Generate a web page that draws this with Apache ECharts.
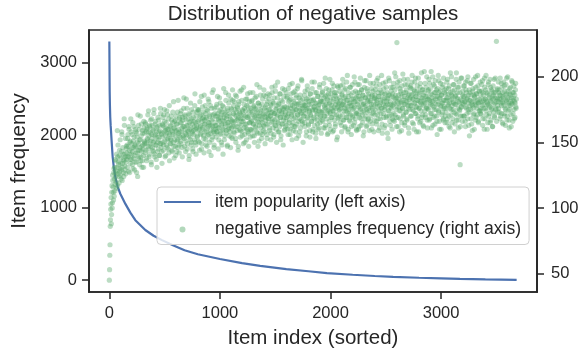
<!DOCTYPE html>
<html>
<head>
<meta charset="utf-8">
<script src="https://cdn.jsdelivr.net/npm/echarts@6/dist/echarts.min.js"></script>
<style>
html,body{margin:0;padding:0;background:#fff;}
#chart{width:582px;height:348px;}
</style>
</head>
<body>
<div id="chart"></div>
<script>
// ---- data ----
const titleText = 'Distribution of negative samples';
const xName = 'Item index (sorted)';
const yLeftName = 'Item frequency';
const lineName = 'item popularity (left axis)';
const scatterName = 'negative samples frequency (right axis)';

const xTicks = [0, 1000, 2000, 3000];
const yLeftTicks = [0, 1000, 2000, 3000];
const yRightTicks = [50, 100, 150, 200];

// item popularity (sorted), read at selected item indices
const popIndex = [0,1,2,3,5,8,12,15,20,30,40,54,75,99,145,190,235,325,400,476,580,680,800,1000,1200,1364,1600,1800,1967,2200,2400,2566,2800,3000,3170,3400,3683];
const popValue = [3290,3050,2800,2600,2420,2250,2130,2060,1930,1700,1560,1420,1290,1190,1050,930,825,690,610,550,475,410,355,290,232,195,150,120,95,72,55,44,31,23,16,9,2];

// negative sample frequency, read for item indices 0,4,8,...,3680
const SAMPLE_STEP = 4;
const negFreq = [
45,64,86,99,108,95,117,104,121,112,127,109,131,118,124,136,115,128,159,139,126,133,119,144,130,125,138,129,158,121,134,141,127,136,163,132,139,126,145,137,
148,131,156,139,162,144,127,151,137,158,141,149,133,165,146,138,154,129,147,160,142,135,157,150,124,144,163,139,152,146,170,136,155,143,131,159,148,140,166,151,
157,142,164,149,136,160,153,171,145,158,139,162,151,167,147,133,156,163,144,159,150,175,141,155,166,148,137,161,154,143,169,152,158,140,163,149,172,146,157,134,
163,150,144,171,158,166,139,155,161,148,174,152,160,145,168,157,136,162,153,149,170,159,143,165,156,181,147,161,152,167,140,158,164,151,173,146,160,155,142,169,
158,172,149,165,161,139,167,154,176,162,147,170,157,151,183,163,145,159,168,155,137,171,160,152,166,148,175,158,164,143,169,156,162,178,150,165,141,161,173,154,
166,151,175,160,144,170,163,157,185,149,168,161,173,155,142,167,164,178,152,169,158,147,174,162,156,181,165,150,171,159,140,176,163,154,168,190,160,148,172,157,
170,154,163,179,158,172,145,167,161,184,156,169,175,150,164,173,159,141,177,166,152,171,162,188,157,168,174,148,165,160,180,155,170,163,146,176,161,167,153,182,
165,178,157,171,162,186,150,173,167,159,176,144,169,181,160,172,154,168,163,190,158,175,166,149,171,179,156,164,174,161,152,183,169,158,177,147,170,165,188,160,
174,160,167,182,155,171,164,178,150,169,176,161,185,158,173,166,147,180,170,163,192,157,175,168,153,179,165,172,159,186,162,170,149,177,167,174,156,181,164,171,
168,183,159,175,170,152,178,165,188,173,161,180,156,172,167,193,163,176,150,171,184,166,158,179,174,162,187,169,155,177,172,164,181,148,175,169,190,160,173,166,
177,163,185,170,156,181,174,167,194,160,176,183,171,152,178,165,188,173,162,180,169,158,186,175,164,191,171,179,155,184,168,176,161,182,173,197,166,178,150,174,
170,186,162,178,175,155,183,168,190,176,164,181,173,159,187,171,179,166,196,174,158,182,169,177,163,188,175,153,180,172,167,185,160,178,174,192,165,181,170,157,
181,167,189,174,161,184,177,170,199,163,179,186,172,156,182,175,190,166,180,173,160,187,178,169,195,174,183,159,177,188,171,164,185,176,152,181,193,168,179,174,
175,189,165,182,178,158,186,171,194,179,167,184,176,162,191,174,182,169,201,177,160,185,172,180,166,192,178,156,183,175,170,188,163,181,177,196,168,184,173,159,
172,188,181,160,177,194,169,183,175,163,190,179,171,186,155,180,174,197,168,184,178,162,191,173,182,167,187,176,159,181,195,170,179,185,164,176,189,173,158,183,
186,171,179,193,164,182,177,199,168,185,174,161,190,180,172,188,176,157,183,195,169,181,175,187,163,178,192,170,184,179,153,186,174,197,166,181,177,189,171,160,
178,192,167,184,180,203,171,186,175,162,226,181,196,169,183,177,158,191,174,187,180,165,193,176,182,170,198,185,163,179,188,173,181,167,194,178,186,157,183,175,
184,170,191,178,196,165,183,187,174,160,189,180,199,172,185,177,193,168,182,158,188,176,181,195,166,184,179,190,171,163,186,182,204,174,180,169,192,177,185,161,
176,190,183,167,195,180,172,187,161,184,178,200,169,182,175,193,164,188,179,185,170,156,191,181,174,197,166,183,189,177,160,186,180,173,194,168,182,177,190,165,
187,173,182,196,168,184,178,191,162,180,176,203,171,186,183,165,189,175,181,194,158,179,185,172,198,167,183,188,176,161,192,180,174,133,170,199,177,182,166,189,
179,193,170,185,181,162,190,176,183,197,168,180,186,173,155,188,182,175,195,164,181,178,191,171,186,160,184,179,200,169,187,176,182,193,166,180,174,189,181,172,
185,171,194,178,163,188,182,176,199,168,183,190,174,181,160,187,179,196,170,184,177,165,192,181,175,189,162,183,186,173,198,169,180,188,176,227,184,191,178,181,
176,190,183,168,186,180,195,172,181,188,164,184,178,193,170,186,175,182,199,167,183,189,174,180,161,187,178,192,171,184,180,196,166,182,188,175,181,169,190,177,183
];

// negative sample frequency, read for item indices 2,6,10,...,3678
const OFFSET_B = 2;
const negFreqB = [
53,72,91,103,88,112,100,125,116,106,130,122,113,137,127,120,141,131,117,148,135,124,140,128,152,134,122,143,156,131,146,137,124,168,141,129,153,135,147,142,
139,153,147,128,160,141,150,134,168,145,137,156,143,130,151,162,140,148,135,158,146,127,154,142,171,138,149,160,133,144,152,139,164,147,136,157,145,131,161,149,
150,165,144,158,138,161,152,147,174,155,141,163,149,157,135,168,153,146,160,143,172,151,139,164,156,148,158,131,162,150,145,167,154,140,159,176,149,156,143,164,
154,169,148,162,175,151,159,140,165,157,146,171,153,160,142,178,156,149,163,152,167,144,158,173,150,161,138,166,155,147,170,159,143,164,152,182,157,148,168,154,
165,151,174,158,146,169,162,155,184,153,171,160,143,167,156,176,149,163,158,172,140,165,154,180,161,150,168,157,145,173,159,166,152,187,160,148,170,163,155,175,
159,174,167,150,181,162,156,171,145,166,177,160,169,153,186,164,158,172,148,168,175,161,155,183,165,143,170,163,178,157,167,152,188,162,171,158,146,176,165,160,
163,177,158,170,185,161,168,152,174,166,180,157,171,163,148,178,167,160,191,169,155,173,164,182,159,170,147,176,165,186,161,172,158,168,183,154,175,166,190,162,
172,158,181,166,175,153,170,185,162,177,168,147,179,164,173,189,159,171,166,182,155,174,168,192,161,176,150,170,183,164,178,160,187,169,157,173,181,165,154,176,
166,181,159,173,188,164,177,155,170,184,162,175,168,194,157,172,180,165,151,178,170,186,161,174,167,156,183,171,163,190,176,158,169,185,164,179,153,172,187,168,
175,161,186,170,179,157,173,192,166,181,168,154,184,172,163,189,175,160,178,170,196,165,180,158,174,187,169,152,182,173,164,191,176,167,185,159,177,171,162,188,
169,184,176,160,191,172,165,182,156,178,187,170,163,195,174,159,181,168,177,189,162,175,184,153,179,171,193,166,180,174,158,186,172,167,198,176,164,183,170,179,
178,165,189,172,181,158,176,193,169,184,163,179,174,154,187,170,182,166,191,175,160,183,177,196,168,180,157,174,188,171,164,185,176,161,179,194,169,182,173,186,
173,188,166,181,195,170,178,161,185,176,191,168,183,174,157,187,179,163,198,172,184,169,176,190,158,181,174,193,167,186,162,179,188,171,183,154,177,192,169,180,
184,170,193,176,163,187,179,198,167,181,174,190,161,185,178,169,196,173,182,158,188,175,167,192,180,171,186,162,178,194,169,183,176,200,165,181,189,172,160,185,
179,194,171,185,162,188,176,199,168,183,190,173,165,186,179,158,192,177,184,170,197,175,163,189,181,168,185,174,201,166,182,177,191,160,186,172,195,179,167,184,
175,190,183,166,197,180,171,188,159,185,178,194,168,182,176,201,164,187,179,172,191,161,184,177,196,169,181,188,157,183,174,199,170,186,179,163,192,176,185,168,
187,172,195,179,166,190,183,200,169,184,177,193,162,186,180,174,197,168,189,181,159,185,176,202,171,188,179,165,194,182,173,190,168,184,198,176,161,187,180,192,
178,193,170,186,201,175,183,164,190,180,196,172,185,177,158,189,182,170,199,176,187,165,192,180,174,203,169,184,190,178,162,188,181,195,171,185,176,200,167,183,
189,175,198,182,168,191,179,204,172,186,181,163,194,177,188,170,197,183,175,190,166,185,179,201,173,188,160,184,195,178,186,171,192,180,167,199,176,188,182,170,
176,191,184,165,198,179,187,170,193,182,161,188,175,200,178,185,168,194,180,173,190,164,186,179,203,171,184,192,167,181,196,175,188,162,183,177,199,170,186,180,
185,170,193,181,166,196,177,188,172,184,200,175,163,190,182,178,195,168,186,179,159,189,176,198,172,185,181,167,192,178,187,171,201,180,165,189,183,174,196,176,
174,189,181,197,168,186,179,160,192,183,176,201,171,188,180,165,194,178,186,172,198,182,167,190,176,185,162,193,179,188,170,184,199,175,181,166,190,183,173,196,
188,173,186,199,170,183,178,192,165,185,180,196,172,189,176,163,194,181,187,170,200,178,184,167,191,175,186,181,162,197,179,188,172,184,193,168,186,180,195,176
];

// ---- chart ----
const FONT = "'Liberation Sans', Arial, 'DejaVu Sans', sans-serif";
const INK = '#262626';
const BLUE = '#4c72b0';
const GREEN = '#55a868';

const lineData = popIndex.map((x, i) => [x, popValue[i]]);
const scatterData = negFreq.map((v, i) => [i * SAMPLE_STEP, v])
  .concat(negFreqB.map((v, i) => [OFFSET_B + i * SAMPLE_STEP, v]));

const chart = echarts.init(document.getElementById('chart'), null, {renderer: 'canvas'});
const lineStyleAxis = {show: true, onZero: false, lineStyle: {color: INK, width: 1.7}};
const tickStyle = {show: true, inside: false, length: 7, lineStyle: {color: INK, width: 1.5}};
const labelStyle = {color: INK, fontSize: 16.5, fontFamily: FONT, formatter: v => String(v)};

chart.setOption({
  animation: false,
  backgroundColor: '#ffffff',
  title: {
    text: titleText,
    left: 313, top: 4, padding: 0,
    textAlign: 'center',
    textStyle: {color: INK, fontSize: 20.5, fontWeight: 'normal', fontFamily: FONT}
  },
  grid: {
    left: 89, right: 45, top: 30, bottom: 56,
    containLabel: false, outerBoundsMode: 'none',
    show: true, borderColor: INK, borderWidth: 1.7, backgroundColor: 'transparent'
  },
  legend: {
    orient: 'vertical',
    left: 157, top: 187,
    padding: [6, 8, 6, 7],
    itemWidth: 37, itemHeight: 6, itemGap: 9.5,
    borderColor: '#d0d0d0', borderWidth: 1, borderRadius: 4,
    backgroundColor: 'rgba(255,255,255,0.8)',
    textStyle: {color: INK, fontSize: 17.6, fontFamily: FONT, padding: [0, 0, 0, 9]},
    data: [
      {name: lineName, icon: 'path://M0,0h37v2.2h-37z', itemStyle: {color: BLUE, opacity: 1}},
      {name: scatterName, icon: 'circle', itemStyle: {color: GREEN, opacity: 0.45}}
    ]
  },
  xAxis: {
    type: 'value', min: -184, max: 3867,
    name: xName, nameLocation: 'middle', nameGap: 36,
    nameTextStyle: {color: INK, fontSize: 20.5, fontFamily: FONT},
    axisLine: lineStyleAxis,
    axisTick: Object.assign({customValues: xTicks}, tickStyle),
    axisLabel: Object.assign({customValues: xTicks, margin: 13}, labelStyle),
    splitLine: {show: false}
  },
  yAxis: [
    {
      type: 'value', min: -166, max: 3450, position: 'left',
      name: yLeftName, nameLocation: 'middle', nameGap: 57, nameRotate: 90,
      nameTextStyle: {color: INK, fontSize: 20.5, fontFamily: FONT},
      axisLine: lineStyleAxis,
      axisTick: Object.assign({customValues: yLeftTicks}, tickStyle),
      axisLabel: Object.assign({customValues: yLeftTicks, margin: 12}, labelStyle),
      splitLine: {show: false}
    },
    {
      type: 'value', min: 36, max: 235.6, position: 'right',
      axisLine: lineStyleAxis,
      axisTick: Object.assign({customValues: yRightTicks}, tickStyle),
      axisLabel: Object.assign({customValues: yRightTicks, margin: 14}, labelStyle),
      splitLine: {show: false}
    }
  ],
  series: [
    {
      name: lineName, type: 'line', yAxisIndex: 0, data: lineData,
      showSymbol: false, symbol: 'none', smooth: false,
      lineStyle: {color: BLUE, width: 2.2}, itemStyle: {color: BLUE}, z: 2
    },
    {
      name: scatterName, type: 'scatter', yAxisIndex: 1, data: scatterData,
      symbol: 'circle', symbolSize: 5.2,
      itemStyle: {color: GREEN, opacity: 0.4}, z: 3
    }
  ]
});
</script>
</body>
</html>
